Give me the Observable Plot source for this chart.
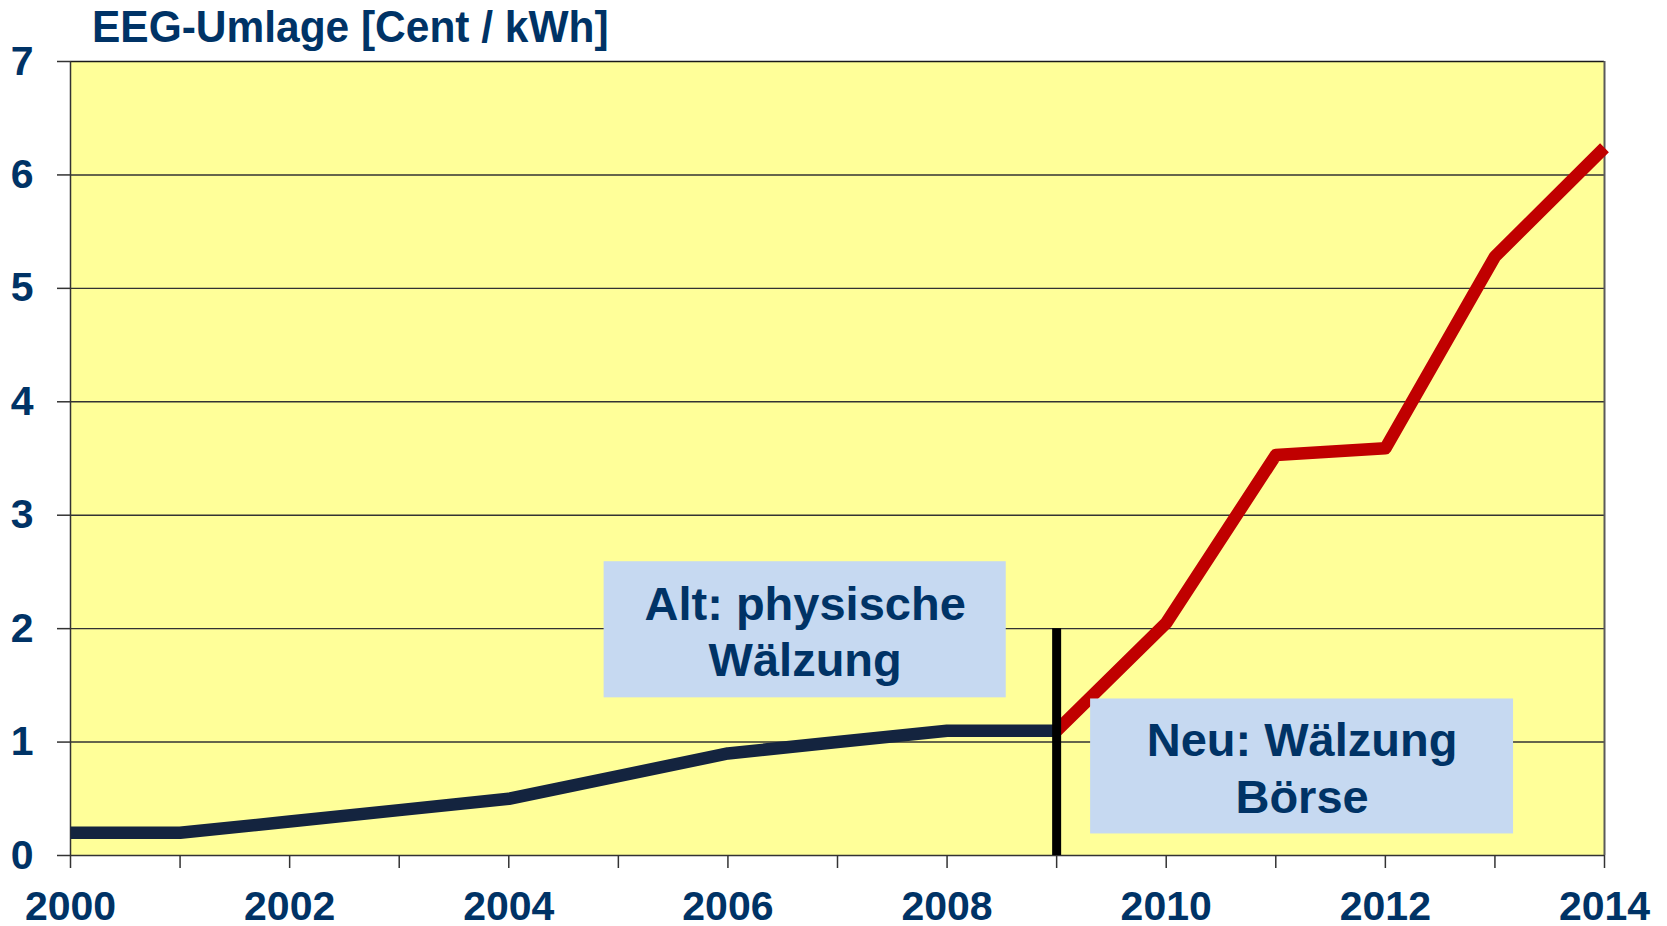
<!DOCTYPE html>
<html>
<head>
<meta charset="utf-8">
<script src="https://cdn.jsdelivr.net/npm/d3@7"></script>
<script src="https://cdn.jsdelivr.net/npm/@observablehq/plot@0.6"></script>
<style>
  html, body { margin: 0; padding: 0; background: #ffffff; }
  #wrap { position: relative; width: 1667px; height: 926px; font-family: "Liberation Sans", Arial, sans-serif; }
  #title { position: absolute; left: 92px; top: 5px; font-size: 44px; line-height: 44px; font-weight: bold; color: #003366; white-space: nowrap; z-index: 2; transform: scaleX(0.965); transform-origin: left top; }
  #chart { position: absolute; left: 0; top: 0; }
</style>
</head>
<body>
<div id="wrap">
  <div id="chart"></div>
  <div id="title">EEG-Umlage [Cent / kWh]</div>
</div>
<script>
// ---- data ----
const years = [2000, 2001, 2002, 2003, 2004, 2005, 2006, 2007, 2008, 2009, 2010, 2011, 2012, 2013, 2014];
const labelYears = [2000, 2002, 2004, 2006, 2008, 2010, 2012, 2014];
const yTicks = [0, 1, 2, 3, 4, 5, 6, 7];
const gridValues = [1, 2, 3, 4, 5, 6];

const oldYears = [2000, 2001, 2002, 2003, 2004, 2005, 2006, 2007, 2008, 2009];
const oldValues = [0.2, 0.2, 0.3, 0.4, 0.5, 0.7, 0.9, 1.0, 1.1, 1.1];

const newYears = [2009, 2010, 2011, 2012, 2013, 2014];
const newValues = [1.1, 2.05, 3.53, 3.59, 5.28, 6.24];

const switchYear = 2009;
const switchTop = 2;

const boxTexts = ["Alt: physische\nWälzung", "Neu: Wälzung\nBörse"];
const boxX1 = [2004.87, 2009.31];
const boxX2 = [2008.54, 2013.17];
const boxY1 = [1.39, 0.19];
const boxY2 = [2.59, 1.38];

// ---- tables ----
const oldData = oldYears.map((y, i) => ({year: y, value: oldValues[i]}));
const newData = newYears.map((y, i) => ({year: y, value: newValues[i]}));
const boxes = boxTexts.map((t, i) => ({text: t, x1: boxX1[i], x2: boxX2[i], y1: boxY1[i], y2: boxY2[i], cx: (boxX1[i] + boxX2[i]) / 2, cy: (boxY1[i] + boxY2[i]) / 2}));

const navy = "#003366";
const font = "Liberation Sans, Arial, sans-serif";

const chart = Plot.plot({
  width: 1667,
  height: 926,
  marginLeft: 70,
  marginRight: 63,
  marginTop: 61,
  marginBottom: 71,
  style: {fontFamily: font, background: "transparent", overflow: "visible"},
  x: {type: "linear", domain: [2000, 2014], label: null},
  y: {domain: [0, 7], label: null},
  marks: [
    Plot.frame({fill: "#FFFF99", stroke: null}),
    Plot.ruleY(gridValues, {stroke: "#333333", strokeWidth: 1.4}),
    Plot.ruleY([7], {stroke: "#1a1a1a", strokeWidth: 1.5}),
    Plot.ruleX([2014], {stroke: "#5a5a5a", strokeWidth: 2}),
    Plot.ruleX([2000], {stroke: "#333333", strokeWidth: 1.5}),
    Plot.ruleY([0], {stroke: "#333333", strokeWidth: 1.5}),
    Plot.axisX({ticks: years, tickSize: 13, tickFormat: () => "", stroke: "#333333", strokeWidth: 1.5}),
    Plot.axisX({ticks: labelYears, tickSize: 0, tickPadding: 35, tickFormat: d => String(d), fontSize: 41, fontWeight: "bold", fill: navy, label: null}),
    Plot.axisY({ticks: yTicks, tickSize: 13, tickPadding: 24, tickFormat: d => String(d), fontSize: 41, fontWeight: "bold", fill: navy, stroke: "#333333", strokeWidth: 1.5, label: null}),
    Plot.line(oldData, {x: "year", y: "value", stroke: "#14243F", strokeWidth: 12.5, strokeLinecap: "butt", strokeLinejoin: "round"}),
    Plot.line(newData, {x: "year", y: "value", stroke: "#C00000", strokeWidth: 12.5, strokeLinecap: "butt", strokeLinejoin: "round"}),
    Plot.ruleX([switchYear], {y1: 0, y2: switchTop, stroke: "#000000", strokeWidth: 9}),
    Plot.rect(boxes, {x1: "x1", x2: "x2", y1: "y1", y2: "y2", fill: "#C6D9F1"}),
    Plot.text(boxes, {x: "cx", y: "cy", text: "text", fontSize: 47, fontWeight: "bold", fill: navy, lineAnchor: "middle", lineHeight: 1.21, textAnchor: "middle"})
  ]
});
document.getElementById("chart").appendChild(chart);
</script>
</body>
</html>
